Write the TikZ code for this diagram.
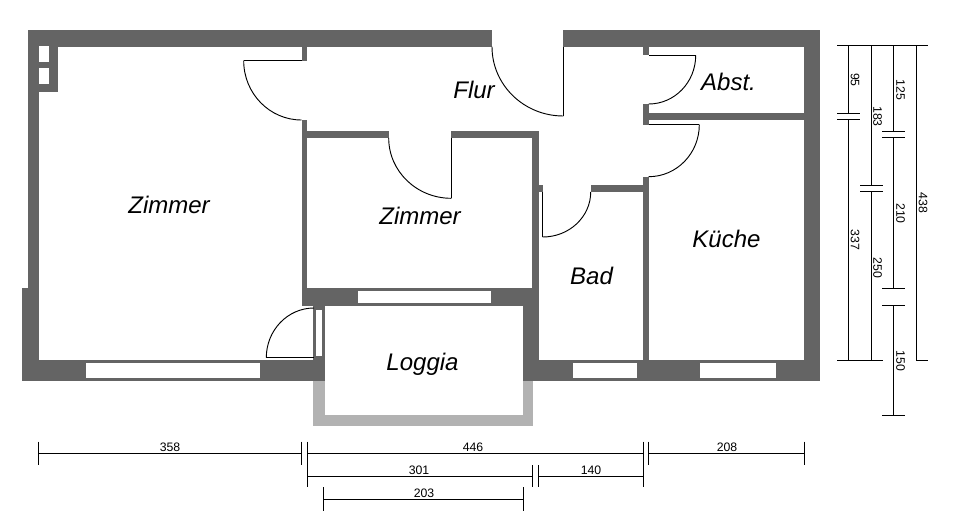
\documentclass[tikz,border=0pt]{standalone}
\usepackage{fontspec}
\setmainfont{Liberation Sans}
\usetikzlibrary{calc}
\definecolor{wallc}{HTML}{646464}
\definecolor{loggiac}{HTML}{B2B2B2}
\tikzset{
  wall/.style={fill=wallc,draw=none},
  hole/.style={fill=white,draw=none},
  balcony/.style={fill=loggiac,draw=none},
  doorline/.style={draw=black,line width=0.7pt},
  dimline/.style={draw=black,line width=0.75pt},
  room/.style={font=\fontsize{18}{20}\selectfont\itshape,inner sep=0pt,text=black},
  dimtext/.style={font=\fontsize{9.2}{10}\selectfont,inner sep=0pt,text=black},
  dimv/.style={dimtext,rotate=-90}
}
\newcommand{\doorarc}[3]{\draw[doorline] (#1) .. controls ($(#1)!.5523!(#2)$) and ($(#3)!.5523!(#2)$) .. (#3);}
\newcommand{\blk}[4]{\fill[wall] (#1,#2) rectangle (#3,#4);}
\newcommand{\opening}[4]{\fill[hole] (#1,#2) rectangle (#3,#4);}
\begin{document}
\begin{tikzpicture}[x=0.75pt,y=-0.75pt]
\useasboundingbox (0,0) rectangle (956,517);
\fill[white] (0,0) rectangle (956,517);
% loggia balustrade
\fill[balcony] (313,380) rectangle (325,426);
\fill[balcony] (523,380) rectangle (533,426);
\fill[balcony] (313,415) rectangle (533,426);
% outer walls
\blk{28}{30}{492}{46.7}
\blk{563.3}{30}{820}{46.7}
\blk{804}{30}{820}{380.7}
\blk{28}{30}{39}{380.7}
\blk{22}{288}{39}{380.7}
\blk{39}{46}{58}{91.7}
\blk{22}{360}{325}{380.7}
\blk{523}{360}{820}{380.7}
% inner walls
\blk{301.5}{46}{307}{60.7}
\blk{301.5}{120}{307}{306}
\blk{301.5}{131.3}{388.7}{138}
\blk{451.3}{131.3}{539}{138}
\blk{532}{131.3}{539}{380}
\blk{301.5}{288}{539}{306}
\blk{523}{306}{539}{380}
\blk{313}{306}{325}{361}
\blk{643}{46}{648.7}{55.3}
\blk{643}{104}{648.7}{124.7}
\blk{643}{176.7}{648.7}{361}
\blk{643}{113}{804}{120}
\blk{590.7}{185}{648}{192}
\blk{539}{185}{542.7}{192}
% chimney flues and windows
\opening{39}{46}{49.3}{62}
\opening{39}{68}{49.3}{84}
\opening{86}{362.7}{260}{378.3}
\opening{358}{291}{491}{303}
\opening{316}{310}{322}{356}
\opening{573}{363}{637}{378}
\opening{700}{363}{776}{378}
% doors
\coordinate (d1a) at (243.7,60.7); \coordinate (d1c) at (243.7,120); \coordinate (d1b) at (301.5,120);
\draw[doorline] (d1a) -- (301.5,60.7); \doorarc{d1a}{d1c}{d1b}
\coordinate (d2a) at (492,46.7); \coordinate (d2c) at (492,116); \coordinate (d2b) at (563.3,116);
\draw[doorline] (d2b) -- (563.3,46.7); \doorarc{d2a}{d2c}{d2b}
\coordinate (d3a) at (388.7,138); \coordinate (d3c) at (388.7,198.3); \coordinate (d3b) at (451.3,198.3);
\draw[doorline] (d3b) -- (451.3,138); \doorarc{d3a}{d3c}{d3b}
\coordinate (d4a) at (695.7,55.3); \coordinate (d4c) at (695.7,104); \coordinate (d4b) at (648.7,104);
\draw[doorline] (d4a) -- (648.7,55.3); \doorarc{d4a}{d4c}{d4b}
\coordinate (d5a) at (699.3,124.7); \coordinate (d5c) at (699.3,176.7); \coordinate (d5b) at (648.7,176.7);
\draw[doorline] (d5a) -- (648.7,124.7); \doorarc{d5a}{d5c}{d5b}
\coordinate (d6a) at (590.7,192); \coordinate (d6c) at (590.7,237); \coordinate (d6b) at (542.7,237);
\draw[doorline] (d6b) -- (542.7,192); \doorarc{d6a}{d6c}{d6b}
\coordinate (d7a) at (314,308); \coordinate (d7c) at (266.3,308); \coordinate (d7b) at (266.3,357.7);
\draw[doorline] (d7b) -- (314,357.7); \doorarc{d7a}{d7c}{d7b}
% room labels
\node[room] (zimmerA) at (169,205) {Zimmer};
\node[room] (flur) at (474,90) {Flur};
\node[room] (abst) at (728.5,82) {Abst.};
\node[room] (zimmerB) at (420,216) {Zimmer};
\node[room] (kueche) at (726.5,238.5) {Küche};
\node[room] (bad) at (591.5,276) {Bad};
\node[room] (loggia) at (422.5,364) {Loggia};
% horizontal dimensions
\draw[dimline] (38.3,453.3) -- (301.3,453.3);
\draw[dimline] (38.3,441.7) -- (38.3,464.7);
\draw[dimline] (301.3,441.7) -- (301.3,464.7);
\draw[dimline] (307.3,453.3) -- (643.3,453.3);
\draw[dimline] (307.3,441.7) -- (307.3,487.3);
\draw[dimline] (643.3,441.7) -- (643.3,487.3);
\draw[dimline] (648.3,453.3) -- (804.3,453.3);
\draw[dimline] (648.3,441.7) -- (648.3,464.7);
\draw[dimline] (804.3,441.7) -- (804.3,464.7);
\draw[dimline] (307.3,476.3) -- (532.7,476.3);
\draw[dimline] (532.7,465) -- (532.7,487.3);
\draw[dimline] (538.3,465) -- (538.3,487.3);
\draw[dimline] (538.3,476.3) -- (643.3,476.3);
\draw[dimline] (323.7,499.3) -- (523.3,499.3);
\draw[dimline] (323.7,487.3) -- (323.7,510.5);
\draw[dimline] (523.3,487.3) -- (523.3,510.5);
\node[dimtext] (h358) at (170,447) {358};
\node[dimtext] (h446) at (473,447) {446};
\node[dimtext] (h208) at (727,447) {208};
\node[dimtext] (h301) at (419,470) {301};
\node[dimtext] (h140) at (591,470) {140};
\node[dimtext] (h203) at (424,493) {203};
% vertical dimensions
\draw[dimline] (837,46) -- (927.7,46);
\draw[dimline] (837,360.3) -- (883,360.3);
\draw[dimline] (916.3,360.3) -- (927.7,360.3);
\draw[dimline] (916.3,46) -- (916.3,360.3);
\draw[dimline] (848.3,46) -- (848.3,113.3);
\draw[dimline] (848.3,119.3) -- (848.3,360.3);
\draw[dimline] (837,113.3) -- (860,113.3);
\draw[dimline] (837,119.3) -- (860,119.3);
\draw[dimline] (871.3,46) -- (871.3,185);
\draw[dimline] (871.3,191.3) -- (871.3,360.3);
\draw[dimline] (860,185) -- (883,185);
\draw[dimline] (860,191.3) -- (883,191.3);
\draw[dimline] (893.3,46) -- (893.3,131);
\draw[dimline] (893.3,137.3) -- (893.3,288.3);
\draw[dimline] (893.3,305.3) -- (893.3,415.3);
\draw[dimline] (882,131) -- (905,131);
\draw[dimline] (882,137.3) -- (905,137.3);
\draw[dimline] (882,288.3) -- (905,288.3);
\draw[dimline] (882,305.3) -- (905,305.3);
\draw[dimline] (882,415.3) -- (905,415.3);
\node[dimv] (v95) at (855,80) {95};
\node[dimv] (v183) at (877.7,116.5) {183};
\node[dimv] (v125) at (900.5,90) {125};
\node[dimv] (v210) at (900.5,213.5) {210};
\node[dimv] (v438) at (923,203) {438};
\node[dimv] (v337) at (855,240) {337};
\node[dimv] (v250) at (877.7,268) {250};
\node[dimv] (v150) at (900.5,361) {150};
\end{tikzpicture}
\end{document}
